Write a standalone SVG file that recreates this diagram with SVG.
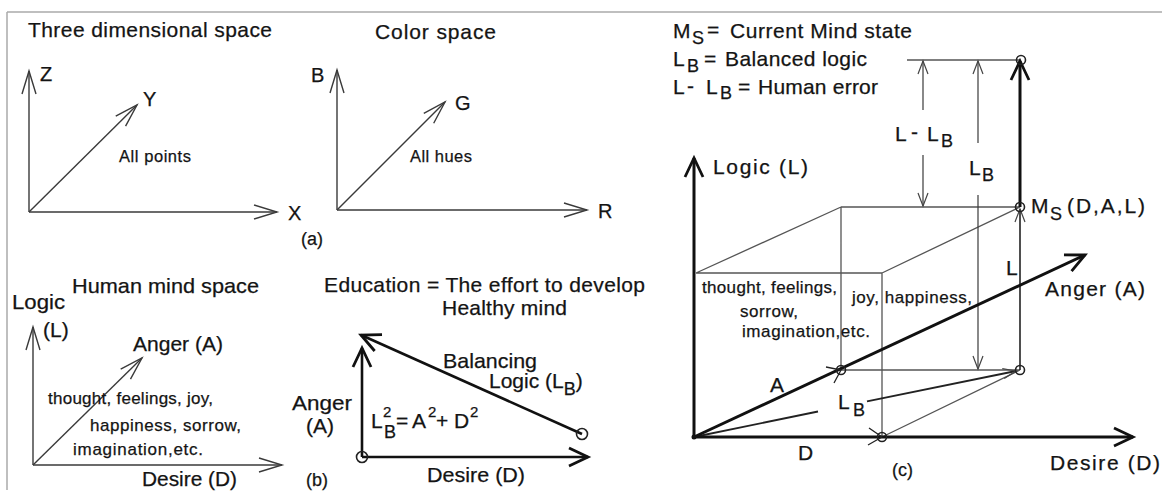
<svg xmlns="http://www.w3.org/2000/svg" width="1162" height="495" viewBox="0 0 1162 495">
<style>
text{font-family:"Liberation Sans",Arial,sans-serif;fill:#141414;stroke:#141414;stroke-width:0.25}
.t19{font-size:21px}.t20{font-size:21px}.t15{font-size:17px}.t14{font-size:16.5px}.t18{font-size:20px}.t17{font-size:18px}.sub{font-size:18px}.sup{font-size:15px}
.thin{fill:none;stroke:#3a3a3a;stroke-width:1.4}
.box{fill:none;stroke:#555;stroke-width:1.3}
.thick{fill:none;stroke:#111;stroke-width:3}
.med{fill:none;stroke:#222;stroke-width:1.8}
.dot{fill:none;stroke:#222;stroke-width:1.6}
</style>
<defs>
<marker id="ot" markerUnits="userSpaceOnUse" markerWidth="24" markerHeight="16" viewBox="0 0 24 16" refX="23" refY="8" orient="auto" overflow="visible"><path d="M0,1 L23,8 L0,15" fill="none" stroke="#3a3a3a" stroke-width="1.4"/></marker>
<marker id="tk" markerUnits="userSpaceOnUse" markerWidth="20" markerHeight="20" viewBox="0 0 20 20" refX="19" refY="10" orient="auto" overflow="visible"><path d="M0,1 L19,10 L0,19" fill="none" stroke="#111" stroke-width="2.8"/></marker>
<marker id="dm" markerUnits="userSpaceOnUse" markerWidth="14" markerHeight="12" viewBox="0 0 14 12" refX="13" refY="6" orient="auto" overflow="visible"><path d="M0,1 L13,6 L0,11" fill="none" stroke="#444" stroke-width="1.2"/></marker>
</defs>
<rect width="1162" height="495" fill="#fff"/>
<g id="frame"><path d="M7,12 H1162 M7,12 V490" fill="none" stroke="#aaa" stroke-width="1.5"/></g>

<g id="connectors">
<line class="thin" x1="29" y1="212" x2="29" y2="71" marker-end="url(#ot)"/>
<line class="thin" x1="29" y1="212" x2="277" y2="212" marker-end="url(#ot)"/>
<line class="thin" x1="29" y1="212" x2="137" y2="105" marker-end="url(#ot)"/>
<line class="thin" x1="337" y1="210" x2="337" y2="70" marker-end="url(#ot)"/>
<line class="thin" x1="337" y1="210" x2="587" y2="210" marker-end="url(#ot)"/>
<line class="thin" x1="337" y1="210" x2="445" y2="102" marker-end="url(#ot)"/>
<line class="thin" x1="33" y1="465" x2="33" y2="327" marker-end="url(#ot)"/>
<line class="thin" x1="33" y1="465" x2="282" y2="465" marker-end="url(#ot)"/>
<line class="thin" x1="33" y1="465" x2="142" y2="358" marker-end="url(#ot)"/>
<line class="thick" style="stroke-width:2.6" x1="362" y1="457" x2="362" y2="348" marker-end="url(#tk)"/>
<line class="thick" style="stroke-width:2.6" x1="362" y1="457" x2="588" y2="457" marker-end="url(#tk)"/>
<line class="thick" style="stroke-width:2.6" x1="582" y1="434" x2="361" y2="335" marker-end="url(#tk)"/>
<circle class="dot" cx="362" cy="457" r="5.5"/>
<circle class="dot" cx="582" cy="434" r="5.5"/>
<path class="box" d="M696,273 H882 V437 M841,207 H1020 M841,207 V370 H1020 M696,273 L841,207 M882,273 L1020,207 M882,437 L1020,370 M907,60 H1020"/>
<line class="med" style="stroke-width:1.6" x1="1020" y1="370" x2="1020" y2="209" marker-end="url(#dm)"/>
<line class="thick" x1="1020" y1="207" x2="1020" y2="61" marker-end="url(#tk)"/>
<line class="thin" style="stroke-width:1.2" x1="923" y1="110" x2="923" y2="61" marker-end="url(#dm)"/>
<line class="thin" style="stroke-width:1.2" x1="923" y1="155" x2="923" y2="206" marker-end="url(#dm)"/>
<line class="thin" style="stroke-width:1.2" x1="978" y1="143" x2="978" y2="61" marker-end="url(#dm)"/>
<line class="thin" style="stroke-width:1.2" x1="978" y1="195" x2="978" y2="369" marker-end="url(#dm)"/>
<line class="med" x1="694" y1="437" x2="818" y2="411.5"/>
<line class="med" x1="867" y1="401.4" x2="1016" y2="371" marker-end="url(#dm)"/>
<line class="thick" x1="694" y1="437" x2="694" y2="158" marker-end="url(#tk)"/>
<line class="thick" x1="694" y1="437" x2="1133" y2="437" marker-end="url(#tk)"/>
<line class="thick" x1="694" y1="437" x2="1085" y2="255" marker-end="url(#tk)"/>
<path class="med" style="stroke-width:1.3" d="M826,367 L841,370 L834,383 M869,428 L882,437 L868,445"/>
<circle class="dot" cx="841" cy="370" r="4.5"/>
<circle class="dot" cx="882" cy="437" r="4.5"/>
<circle class="dot" cx="1020" cy="370" r="4.5"/>
<circle class="dot" cx="1020" cy="207" r="4.5"/>
<circle class="dot" cx="1021" cy="60" r="4.5"/>
<circle fill="#111" cx="694" cy="437" r="2.5"/>
</g>

<g id="panel-a">
<text class="t19" x="28" y="37" textLength="244" lengthAdjust="spacing">Three dimensional space</text>
<text class="t18" x="40" y="81">Z</text>
<text class="t18" x="143" y="106">Y</text>
<text class="t18" x="288" y="220">X</text>
<text class="t14" x="119" y="162" textLength="72" lengthAdjust="spacing">All points</text>
<text class="t17" x="301" y="245">(a)</text>
</g>

<g id="panel-color">
<text class="t20" x="375" y="39" textLength="121" lengthAdjust="spacing">Color space</text>
<text class="t18" x="311" y="82">B</text>
<text class="t18" x="455" y="110">G</text>
<text class="t18" x="598" y="218">R</text>
<text class="t14" x="410" y="162" textLength="62" lengthAdjust="spacing">All hues</text>
</g>

<g id="panel-mind">
<text class="t19" x="72" y="293" textLength="187" lengthAdjust="spacingAndGlyphs">Human mind space</text>
<text class="t19" x="12" y="309" textLength="53" lengthAdjust="spacingAndGlyphs">Logic</text>
<text class="t19" x="43" y="337">(L)</text>
<text class="t19" x="133" y="351" textLength="90" lengthAdjust="spacingAndGlyphs">Anger (A)</text>
<text class="t15" x="48" y="404" textLength="165" lengthAdjust="spacing">thought, feelings, joy,</text>
<text class="t15" x="90" y="431" textLength="151" lengthAdjust="spacing">happiness, sorrow,</text>
<text class="t15" x="73" y="455" textLength="130" lengthAdjust="spacing">imagination,etc.</text>
<text class="t19" x="142" y="486" textLength="95" lengthAdjust="spacingAndGlyphs">Desire (D)</text>
<text class="t17" x="306" y="486">(b)</text>
</g>

<g id="panel-b">
<text class="t19" x="324" y="292" textLength="321" lengthAdjust="spacing">Education = The effort to develop</text>
<text class="t19" x="442" y="315" textLength="125" lengthAdjust="spacing">Healthy mind</text>
<text class="t19" x="292" y="410" textLength="60" lengthAdjust="spacingAndGlyphs">Anger</text>
<text class="t19" x="306" y="433">(A)</text>
<text class="t19" x="443" y="368" textLength="94" lengthAdjust="spacingAndGlyphs">Balancing</text>
<text class="t19" x="489" y="388">Logic (L<tspan class="sub" dy="7">B</tspan><tspan dy="-7">)</tspan></text>
<text class="t19" x="371" y="428">L</text>
<text class="sup" x="383" y="417">2</text>
<text class="sub" x="384" y="438">B</text>
<text class="t19" x="396" y="428">=</text>
<text class="t19" x="412" y="428">A</text>
<text class="sup" x="428" y="417">2</text>
<text class="t19" x="436" y="428">+</text>
<text class="t19" x="454" y="428">D</text>
<text class="sup" x="470" y="417">2</text>
<text class="t19" x="427" y="482" textLength="98" lengthAdjust="spacingAndGlyphs">Desire (D)</text>
</g>

<g id="panel-c-legend">
<text class="t20" x="673" y="38">M</text><text class="sub" x="692" y="44">S</text>
<text class="t20" x="707" y="37">=</text>
<text class="t20" x="730" y="38" textLength="182" lengthAdjust="spacing">Current  Mind  state</text>
<text class="t20" x="673" y="66">L</text><text class="sub" x="687" y="72">B</text>
<text class="t20" x="704" y="66">=</text>
<text class="t20" x="725" y="66" textLength="142" lengthAdjust="spacing">Balanced logic</text>
<text class="t20" x="673" y="94">L</text>
<text class="t20" x="687" y="93">-</text>
<text class="t20" x="706" y="94">L</text><text class="sub" x="720" y="99">B</text>
<text class="t20" x="738" y="94">=</text>
<text class="t20" x="758" y="94" textLength="120" lengthAdjust="spacing">Human error</text>
</g>

<g id="panel-c">
<text class="t20" x="713" y="174" textLength="95" lengthAdjust="spacing">Logic (L)</text>
<text class="t20" x="895" y="141">L</text>
<text class="t20" x="911" y="139">-</text>
<text class="t20" x="927" y="141">L</text><text class="sub" x="941" y="147">B</text>
<text class="t20" x="969" y="175">L</text><text class="sub" x="982" y="181">B</text>
<text class="t20" x="1031" y="213">M</text><text class="sub" x="1050" y="220">S</text>
<text class="t20" x="1067" y="213" textLength="78" lengthAdjust="spacing">(D,A,L)</text>
<text class="t20" x="1006" y="275">L</text>
<text class="t20" x="1045" y="296" textLength="100" lengthAdjust="spacing">Anger (A)</text>
<text class="t15" x="702" y="293" textLength="135" lengthAdjust="spacing">thought, feelings,</text>
<text class="t15" x="740" y="317" textLength="58" lengthAdjust="spacing">sorrow,</text>
<text class="t15" x="742" y="337" textLength="128" lengthAdjust="spacing">imagination,etc.</text>
<text class="t15" x="852" y="303" textLength="120" lengthAdjust="spacing">joy, happiness,</text>
<text class="t20" x="770" y="392">A</text>
<text class="t20" x="838" y="409">L</text><text class="sub" x="853" y="416">B</text>
<text class="t20" x="798" y="460">D</text>
<text class="t17" x="892" y="476">(c)</text>
<text class="t20" x="1050" y="470" textLength="110" lengthAdjust="spacing">Desire (D)</text>
</g>
</svg>
